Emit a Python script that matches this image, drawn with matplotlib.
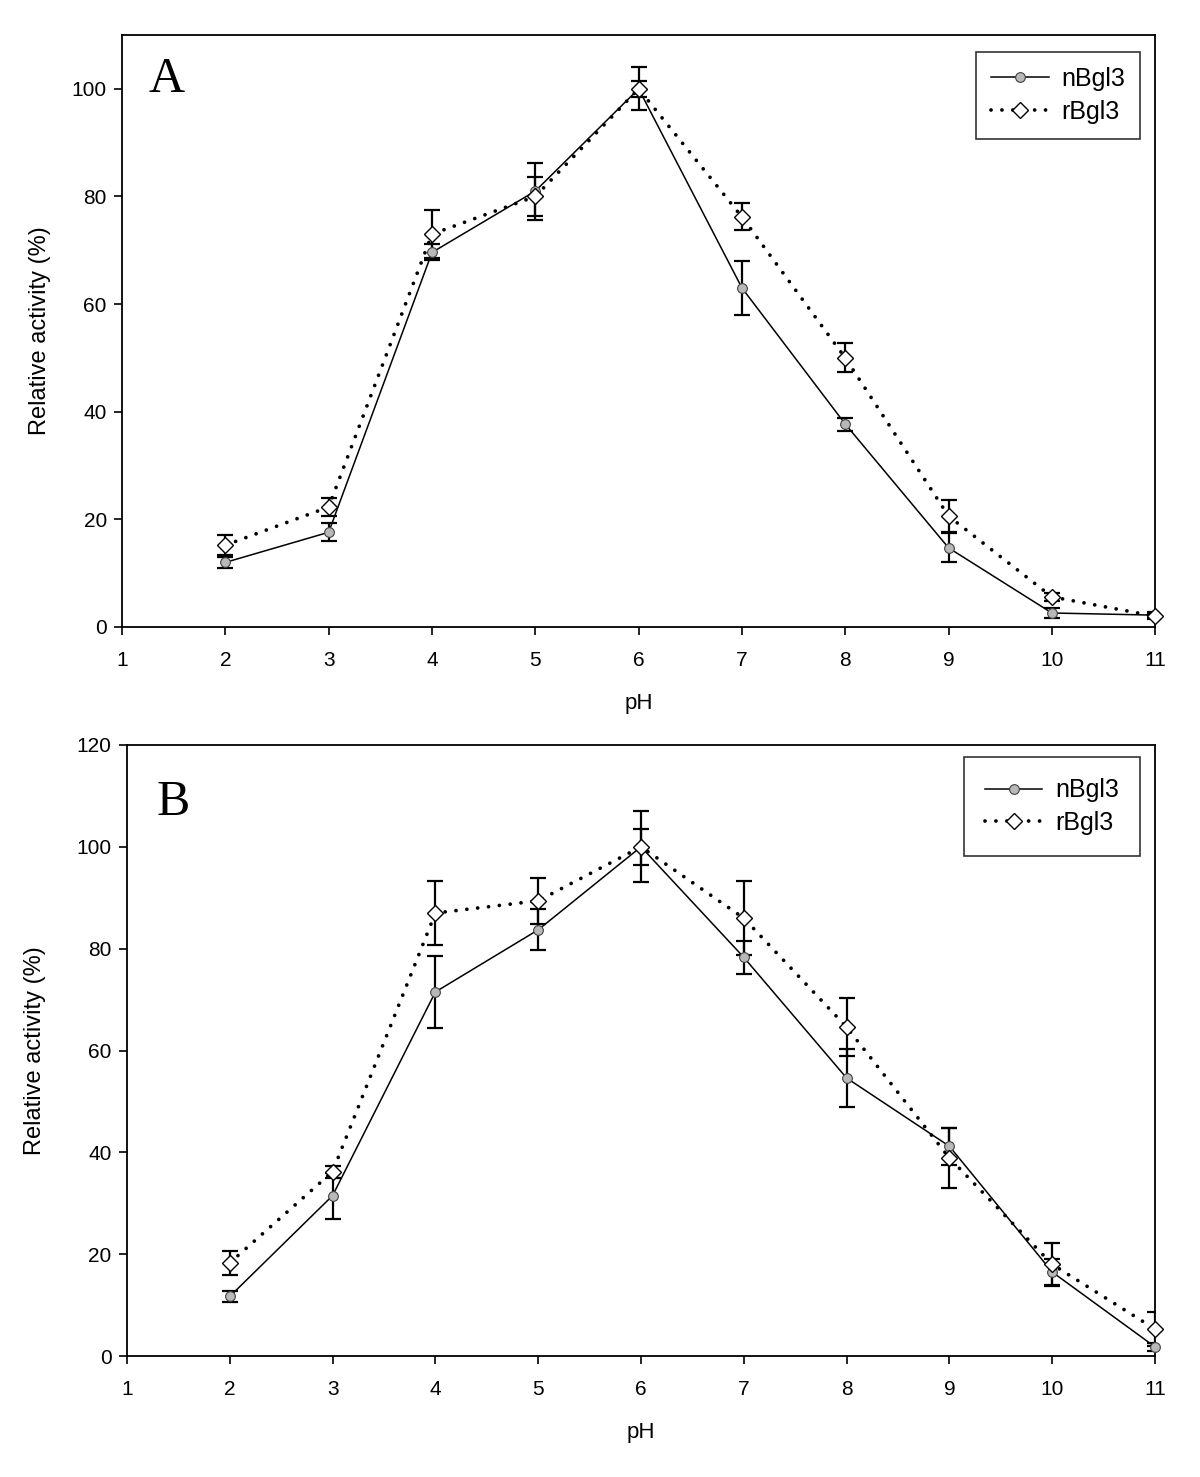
import numpy as np
import matplotlib.pyplot as plt
from matplotlib.lines import Line2D

plt.rcParams['font.family'] = ['Liberation Sans', 'DejaVu Sans']

############### Data
ph = [2, 3, 4, 5, 6, 7, 8, 9, 10, 11]

# panel A
a_n = [12, 17.6, 69.6, 81, 100, 63, 37.7, 14.7, 2.6, 2.2]
a_n_err = [1, 1.7, 1.5, 5.3, 4, 5, 1.2, 2.7, 1, 0.5]
a_r = [15.2, 22.3, 73, 80, 100, 76.2, 50, 20.6, 5.6, 2.0]
a_r_err = [1.8, 1.7, 4.5, 3.7, 1.5, 2.5, 2.7, 3, 0.8, 0.5]

# panel B
b_n = [11.7, 31.5, 71.5, 83.7, 100, 78.3, 54.6, 41.2, 16.5, 1.8]
b_n_err = [1, 4.5, 7, 4, 3.5, 3.3, 5.7, 3.6, 2.5, 0.8]
b_r = [18.3, 36.2, 87, 89.4, 100, 86, 64.6, 38.9, 18, 5.3]
b_r_err = [2.3, 1.2, 6.3, 4.5, 7, 7.3, 5.7, 5.9, 4.2, 3.3]

labels = ['nBgl3', 'rBgl3']
dot = (0, (0.01, 2.9))

############### Figure
fig = plt.figure(figsize=(12, 14.77), dpi=100)
axA = fig.add_axes([0.1017, 0.5755, 0.861, 0.4008])
axB = fig.add_axes([0.1058, 0.0819, 0.8567, 0.4137])


def panel(ax, n, nerr, r, rerr, ymax, yticks, letter, lpos, legpos, ylpad, bpad):
    ax.errorbar(ph, n, yerr=nerr, fmt='none', ecolor='black', elinewidth=1.6,
                capsize=6, capthick=1.6, zorder=2)
    ax.errorbar(ph, r, yerr=rerr, fmt='none', ecolor='black', elinewidth=1.6,
                capsize=6, capthick=1.6, zorder=2)
    ax.plot(ph, n, color='black', lw=1.1, zorder=3)
    ax.plot(ph, r, color='black', lw=2.7, linestyle=dot, dash_capstyle='round', zorder=3)
    ax.plot(ph, n, linestyle='none', marker='o', ms=7, mfc='#b8b8b8', mec='#404040',
            mew=0.8, zorder=4, clip_on=False)
    ax.plot(ph, r, linestyle='none', marker='D', ms=8, mfc='white', mec='black',
            mew=1, zorder=4, clip_on=False)
    ax.set_xlim(1, 11)
    ax.set_ylim(0, ymax)
    ax.set_xticks(range(1, 12))
    ax.set_yticks(yticks)
    ax.tick_params(direction='out', length=6, width=1.2, labelsize=15, pad=5)
    ax.tick_params(axis='x', pad=11)
    for s in ax.spines.values():
        s.set_linewidth(1.3)
    ax.set_xlabel('pH', fontsize=16, labelpad=17)
    ax.set_ylabel('Relative activity (%)', fontsize=17, labelpad=ylpad)
    ax.text(lpos[0], lpos[1], letter, transform=ax.transAxes, fontsize=36,
            family='Liberation Serif', va='center')
    h1 = Line2D([], [], color='black', lw=1.1, marker='o', ms=7, mfc='#b8b8b8',
                mec='#404040', mew=0.8)
    h2 = Line2D([], [], color='black', lw=2.7, linestyle=dot, dash_capstyle='round',
                marker='D', ms=8, mfc='white', mec='black', mew=1)
    leg = ax.legend([h1, h2], labels, loc='upper right', fontsize=18, frameon=True,
                    fancybox=False, edgecolor='black', handlelength=2.3,
                    handletextpad=0.5, borderpad=bpad, labelspacing=0.35,
                    borderaxespad=0, bbox_to_anchor=legpos)
    leg.get_frame().set_linewidth(1.2)


############### Plots
panel(axA, a_n, a_n_err, a_r, a_r_err, 110, range(0, 101, 20), 'A',
      (0.026, 0.925), (0.9855, 0.971), 15, 0.6)
panel(axB, b_n, b_n_err, b_r, b_r_err, 120, range(0, 121, 20), 'B',
      (0.029, 0.905), (0.9855, 0.980), 22, 0.85)

fig.savefig('out.png', dpi=100)
